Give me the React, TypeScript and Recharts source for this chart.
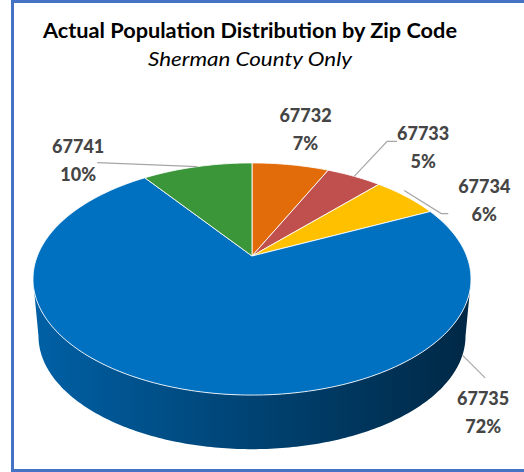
import React from 'react';
import { PieChart, Pie, Cell, Customized } from 'recharts';

// ---- data ----
const ZIP_CODES = ['67732', '67733', '67734', '67735', '67741'];
const SHARES = [7, 5, 6, 72, 10];
const PCT_LABELS = ['7%', '5%', '6%', '72%', '10%'];
const COLORS = ['#E36C0A', '#C0504D', '#FFC000', '#0070C0', '#3A9638'];
const TITLE = 'Actual Population Distribution by Zip Code';
const SUBTITLE = 'Sherman County Only';

const data = ZIP_CODES.map((name, i) => ({ name, value: SHARES[i], pct: PCT_LABELS[i] }));

// ---- 3D look (styling constants) ----
const TILT = 0.53;
const APEX_DROP = 23;
const DEPTH = 57;
const BOTTOM_SCALE = 0.975;
const LABEL_FONT = 'Lato, "Noto Sans", sans-serif';

// label placement relative to the rim point at each slice's mid angle
const LABEL_LAYOUT: { text: [number, number]; line: [number, number][] | null }[] = [
  { text: [15, -43], line: null },
  { text: [69, -36], line: [[0, 0], [33, -35], [43, -35]] },
  { text: [78, -4], line: [[-2, -6], [35, 17], [42, 17]] },
  { text: [296, 15], line: [[275, -35], [298, -12]] },
  { text: [-119, -14], line: [[0, 0], [-100, -4]] },
];

const RAD = Math.PI / 180;

function edgePoint(cx: number, cy: number, R: number, deg: number) {
  const ry = R * TILT;
  const oy = -APEX_DROP;
  const dx = Math.cos(deg * RAD);
  const dy = -TILT * Math.sin(deg * RAD);
  const a = (dx / R) ** 2 + (dy / ry) ** 2;
  const b = (2 * oy * dy) / (ry * ry);
  const c = (oy / ry) ** 2 - 1;
  const t = (-b + Math.sqrt(b * b - 4 * a * c)) / (2 * a);
  return { x: cx + dx * t, y: cy + dy * t };
}

const norm = (a: number) => ((a % 360) + 360) % 360;

function shade(hex: string, f: number) {
  const n = parseInt(hex.slice(1), 16);
  const r = Math.round(((n >> 16) & 255) * f);
  const g = Math.round(((n >> 8) & 255) * f);
  const b = Math.round((n & 255) * f);
  return `rgb(${r},${g},${b})`;
}

const TopFace = (props: any) => {
  const { cx, cy, outerRadius, startAngle, endAngle, fill } = props;
  const n = Math.max(2, Math.ceil(Math.abs(endAngle - startAngle)));
  let d = `M${cx},${cy}`;
  for (let i = 0; i <= n; i++) {
    const a = startAngle + ((endAngle - startAngle) * i) / n;
    const p = edgePoint(cx, cy, outerRadius, a);
    d += ` L${p.x.toFixed(2)},${p.y.toFixed(2)}`;
  }
  d += ' Z';
  return <path d={d} fill={fill} stroke="#ffffff" strokeOpacity={0.85} strokeWidth={1} strokeLinejoin="round" />;
};

const Wall = (props: any) => {
  const { cx, cy, outerRadius: R, startAngle, endAngle, fill, index } = props;
  const ry = R * TILT;
  const ecy = cy + APEX_DROP;
  const phiOf = (p: { x: number; y: number }) =>
    norm(Math.atan2(-(p.y - ecy) / ry, (p.x - cx) / R) / RAD);
  const ps = phiOf(edgePoint(cx, cy, R, startAngle));
  const pe = phiOf(edgePoint(cx, cy, R, endAngle));
  let sweep = norm(ps - pe);
  if (Math.abs(startAngle - endAngle) >= 359.99) sweep = 360;
  const paths: string[] = [];
  for (const k of [-360, 0]) {
    const lo = Math.max(pe + k, 180);
    const hi = Math.min(pe + k + sweep, 360);
    if (hi - lo > 0.01) {
      const m = Math.max(2, Math.ceil(hi - lo));
      let d = '';
      for (let i = 0; i <= m; i++) {
        const f = (lo + ((hi - lo) * i) / m) * RAD;
        d += `${i === 0 ? 'M' : 'L'}${(cx + R * Math.cos(f)).toFixed(2)},${(ecy - ry * Math.sin(f)).toFixed(2)} `;
      }
      for (let i = m; i >= 0; i--) {
        const f = (lo + ((hi - lo) * i) / m) * RAD;
        d += `L${(cx + R * BOTTOM_SCALE * Math.cos(f)).toFixed(2)},${(ecy + DEPTH - ry * BOTTOM_SCALE * Math.sin(f)).toFixed(2)} `;
      }
      d += 'Z';
      paths.push(d);
    }
  }
  const gid = `wallgrad-${index}`;
  return (
    <g>
      <defs>
        <linearGradient id={gid} x1="0" y1="0" x2="1" y2="0">
          <stop offset="0" stopColor={shade(fill, 0.86)} />
          <stop offset="0.5" stopColor={shade(fill, 0.6)} />
          <stop offset="1" stopColor={shade(fill, 0.36)} />
        </linearGradient>
      </defs>
      {paths.map((d, i) => (
        <path key={i} d={d} fill={`url(#${gid})`} stroke="none" />
      ))}
    </g>
  );
};

const renderLabel = (props: any) => {
  const { cx, cy, outerRadius, midAngle, index } = props;
  const layout = LABEL_LAYOUT[index];
  const e = edgePoint(cx, cy, outerRadius, midAngle);
  const tx = e.x + layout.text[0];
  const ty = e.y + layout.text[1];
  const item = data[index];
  return (
    <g key={`lbl-${index}`}>
      {layout.line && (
        <polyline
          points={layout.line.map(([dx, dy]) => `${e.x + dx},${e.y + dy}`).join(' ')}
          fill="none"
          stroke="#a6a6a6"
          strokeWidth={1.2}
        />
      )}
      <text x={tx} y={ty} textAnchor="middle" fontFamily={LABEL_FONT} fontWeight={900} fontSize={18} fill="#454545">
        {item.name}
      </text>
      <text x={tx} y={ty + 28} textAnchor="middle" fontFamily={LABEL_FONT} fontWeight={900} fontSize={18} fill="#454545">
        {item.pct}
      </text>
    </g>
  );
};

const Titles = () => (
  <g>
    <text x={250} y={38} textAnchor="middle" fontFamily={LABEL_FONT} fontWeight={700} fontSize={20.5} fill="#000000" textLength={414} lengthAdjust="spacingAndGlyphs">
      {TITLE}
    </text>
    <text x={250} y={66} textAnchor="middle" fontFamily={LABEL_FONT} fontStyle="italic" fontSize={19} fill="#000000" textLength={204} lengthAdjust="spacingAndGlyphs">
      {SUBTITLE}
    </text>
  </g>
);

export default function App() {
  return (
    <div style={{ position: 'absolute', left: 0, top: 0, width: 524, height: 472, overflow: 'hidden', background: '#ffffff' }}>
      <div
        style={{
          position: 'absolute',
          left: 11,
          top: 0,
          width: 513,
          height: 472,
          boxSizing: 'border-box',
          borderLeft: '3px solid #4472C4',
          borderTop: '3px solid #4472C4',
          borderBottom: '3px solid #4472C4',
        }}
      />
      <div style={{ position: 'absolute', left: 0, top: 0 }}>
        <PieChart width={524} height={472} margin={{ top: 0, right: 0, bottom: 0, left: 0 }}>
          <Pie
            data={data}
            dataKey="value"
            nameKey="name"
            cx={252}
            cy={256}
            outerRadius={219}
            startAngle={90}
            endAngle={-270}
            isAnimationActive={false}
            shape={Wall}
            inactiveShape={Wall}
            activeShape={Wall}
            label={false}
            labelLine={false}
          >
            {data.map((d, i) => (
              <Cell key={d.name} fill={COLORS[i]} />
            ))}
          </Pie>
          <Pie
            data={data}
            dataKey="value"
            nameKey="name"
            cx={252}
            cy={256}
            outerRadius={219}
            startAngle={90}
            endAngle={-270}
            isAnimationActive={false}
            shape={TopFace}
            inactiveShape={TopFace}
            activeShape={TopFace}
            label={renderLabel}
            labelLine={false}
          >
            {data.map((d, i) => (
              <Cell key={d.name} fill={COLORS[i]} />
            ))}
          </Pie>
          <Customized component={Titles} />
        </PieChart>
      </div>
    </div>
  );
}
